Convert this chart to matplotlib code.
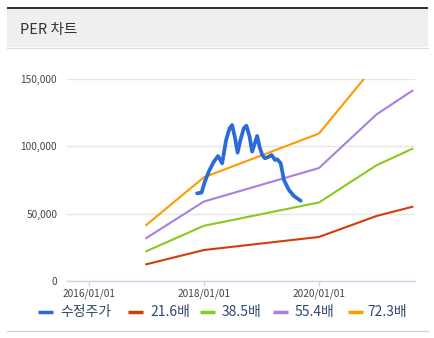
import matplotlib
matplotlib.use('Agg')
import matplotlib.pyplot as plt
import matplotlib.dates as mdates
from matplotlib.lines import Line2D
from matplotlib.patches import Rectangle
import pandas as pd

plt.rcParams['font.family'] = ['Noto Sans CJK KR', 'DejaVu Sans']

# ---- data ----
title = 'PER 차트'
price_label = '수정주가'
price_dates = ['2017-11-19', '2017-12-17', '2018-01-07', '2018-02-01', '2018-03-05',
               '2018-04-01', '2018-04-27', '2018-05-22', '2018-06-13', '2018-06-29',
               '2018-07-16', '2018-08-03', '2018-08-21', '2018-09-11', '2018-09-28',
               '2018-10-18', '2018-11-03', '2018-11-20', '2018-12-05', '2018-12-20',
               '2019-01-06', '2019-01-23', '2019-02-17', '2019-03-06', '2019-03-28',
               '2019-04-11', '2019-05-03', '2019-05-24', '2019-06-24', '2019-07-26',
               '2019-09-07']
price_values = [65100, 65600, 73700, 81200, 88600,
                92800, 87400, 104700, 113400, 115800,
                107200, 95300, 104700, 113400, 115300,
                107200, 96000, 102300, 107700, 99700,
                93600, 91100, 92300, 93600, 89900,
                90400, 87400, 75000, 67600, 63100,
                59600]

band_dates = ['2017-01-01', '2018-01-01', '2020-01-01', '2021-01-01', '2021-08-15']
band_labels = ['21.6배', '38.5배', '55.4배', '72.3배']
band_21_6 = [12400, 23000, 32700, 48300, 55100]
band_38_5 = [22100, 41000, 58300, 86000, 98200]
band_55_4 = [31900, 59000, 83900, 123800, 141300]
band_72_3 = [41600, 77000, 109500, 161600, 184400]

y_ticks = [0, 50000, 100000, 150000]
x_ticks = ['2016-01-01', '2018-01-01', '2020-01-01']
x_range = ['2015-08-17', '2021-09-01']

# ---- styles ----
price_color = '#2b6bd8'
band_colors = ['#d43c0c', '#8cc81e', '#a97fe0', '#ff9a00']
W, H = 434, 338


def fx(x):
    return x / W


def fy(y):
    return 1 - y / H


fig = plt.figure(figsize=(W / 100, H / 100), dpi=100)
fig.patch.set_facecolor('white')

# card header
fig.add_artist(Rectangle((fx(7), fy(47)), fx(421), 38 / H, transform=fig.transFigure,
                         facecolor='#efefef', edgecolor='none'))
fig.add_artist(Rectangle((fx(7), fy(9)), fx(421), 2 / H, transform=fig.transFigure,
                         facecolor='#333333', edgecolor='none'))
fig.add_artist(Line2D([fx(7), fx(428)], [fy(47.5), fy(47.5)], transform=fig.transFigure,
                      color='#dcdcdc', lw=0.8))
fig.add_artist(Line2D([fx(7), fx(428)], [fy(331), fy(331)], transform=fig.transFigure,
                      color='#cfcfcf', lw=0.8))
fig.text(fx(20), fy(30), title, fontsize=10.5, color='#333333', va='center', ha='left')

# plot area
ax = fig.add_axes([fx(67), (H - 281) / H, 348 / W, 202 / H])
ax.set_facecolor('none')

bx = pd.to_datetime(band_dates)
for vals, col in zip([band_21_6, band_38_5, band_55_4, band_72_3], band_colors):
    ax.plot(bx, vals, color=col, lw=1.5, solid_joinstyle='round', zorder=3)

ax.plot(pd.to_datetime(price_dates), price_values, color=price_color, lw=2.7,
        solid_joinstyle='round', solid_capstyle='round', zorder=4)

ax.set_xlim(pd.to_datetime(x_range[0]), pd.to_datetime(x_range[1]))
ax.set_ylim(0, 150000)

ax.set_yticks(y_ticks)
ax.set_yticklabels([f'{v:,}' for v in y_ticks])
ax.set_xticks(pd.to_datetime(x_ticks))
ax.xaxis.set_major_formatter(mdates.DateFormatter('%Y/%m/%d'))

for s in ['top', 'right', 'left']:
    ax.spines[s].set_visible(False)
ax.spines['bottom'].set_color('#ccd6eb')
ax.spines['bottom'].set_linewidth(1)
ax.spines['bottom'].set_zorder(2)

ax.grid(axis='y', color='#e6e6e6', lw=1, zorder=1)
ax.set_axisbelow(True)
ax.tick_params(axis='y', length=0, pad=7, labelsize=7.3, labelcolor='#444444')
ax.tick_params(axis='x', length=3.6, width=1, color='#ccd6eb', pad=1.5,
               labelsize=7.3, labelcolor='#444444')

# legend row
legend_items = [(price_label, price_color)] + list(zip(band_labels, band_colors))
sym_x = [38, 128, 200, 273, 348]
txt_x = [60, 150, 222, 295, 367]
ly = 312
for (lab, col), sx, tx in zip(legend_items, sym_x, txt_x):
    fig.add_artist(Line2D([fx(sx), fx(sx + 15)], [fy(ly), fy(ly)], transform=fig.transFigure,
                          color=col, lw=2.5, solid_capstyle='butt'))
    fig.text(fx(tx), fy(ly), lab, fontsize=10, color='#2f4a6a', va='center', ha='left')

fig.savefig('out.png', dpi=100)
